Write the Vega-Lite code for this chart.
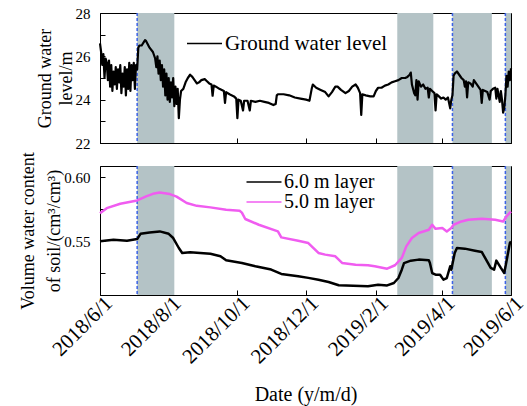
{
"$schema":"https://vega.github.io/schema/vega-lite/v6.json",
"padding":{"left":19,"top":5,"right":2,"bottom":1},
"spacing":23,
"bounds":"flush",
"resolve":{"scale":{"color":"independent"},"legend":{"color":"independent"}},
"datasets":{
"shade":[{"d":"2018-07-04","e":"2018-08-06"},{"d":"2019-02-20","e":"2019-03-24"},{"d":"2019-04-10","e":"2019-05-15"},{"d":"2019-05-27","e":"2019-06-01"}],
"dash":[{"d":"2018-07-04"},{"d":"2019-04-10"},{"d":"2019-05-27"}],
"gw":[
{"d":"2018-06-01","g":26.6},{"d":"2018-06-02","g":26.2},{"d":"2018-06-03","g":25.6},{"d":"2018-06-04","g":26.1},{"d":"2018-06-05","g":25.0},{"d":"2018-06-06","g":25.9},{"d":"2018-06-07","g":25.7},{"d":"2018-06-08","g":24.9},{"d":"2018-06-09","g":25.8},{"d":"2018-06-10","g":24.6},{"d":"2018-06-11","g":25.6},{"d":"2018-06-12","g":24.4},{"d":"2018-06-13","g":25.3},{"d":"2018-06-14","g":24.7},{"d":"2018-06-15","g":25.5},{"d":"2018-06-16","g":24.5},{"d":"2018-06-17","g":25.4},{"d":"2018-06-18","g":24.8},{"d":"2018-06-19","g":25.6},{"d":"2018-06-20","g":24.3},{"d":"2018-06-21","g":25.2},{"d":"2018-06-22","g":24.6},{"d":"2018-06-23","g":25.5},{"d":"2018-06-24","g":24.2},{"d":"2018-06-25","g":25.4},{"d":"2018-06-26","g":24.5},{"d":"2018-06-27","g":25.7},{"d":"2018-06-28","g":24.4},{"d":"2018-06-29","g":25.6},{"d":"2018-06-30","g":24.9},
{"d":"2018-07-01","g":25.7},{"d":"2018-07-02","g":24.5},{"d":"2018-07-03","g":25.6},{"d":"2018-07-04","g":25.4},{"d":"2018-07-05","g":26.4},{"d":"2018-07-06","g":26.5},{"d":"2018-07-08","g":26.5},{"d":"2018-07-11","g":26.75},{"d":"2018-07-12","g":26.7},{"d":"2018-07-15","g":26.4},{"d":"2018-07-18","g":26.2},{"d":"2018-07-20","g":25.9},{"d":"2018-07-21","g":25.5},{"d":"2018-07-22","g":26.0},{"d":"2018-07-23","g":25.2},{"d":"2018-07-24","g":25.8},{"d":"2018-07-25","g":24.9},{"d":"2018-07-26","g":25.6},{"d":"2018-07-27","g":24.6},{"d":"2018-07-28","g":25.4},{"d":"2018-07-29","g":24.2},{"d":"2018-07-30","g":25.2},{"d":"2018-07-31","g":24.0},
{"d":"2018-08-01","g":25.0},{"d":"2018-08-02","g":23.9},{"d":"2018-08-03","g":24.8},{"d":"2018-08-04","g":24.1},{"d":"2018-08-05","g":25.0},{"d":"2018-08-06","g":23.7},{"d":"2018-08-07","g":24.6},{"d":"2018-08-08","g":23.8},{"d":"2018-08-09","g":24.5},{"d":"2018-08-10","g":23.15},{"d":"2018-08-11","g":24.0},{"d":"2018-08-12","g":24.4},{"d":"2018-08-14","g":24.5},{"d":"2018-08-16","g":24.8},{"d":"2018-08-18","g":25.0},{"d":"2018-08-20","g":25.15},{"d":"2018-08-22","g":25.05},{"d":"2018-08-24","g":24.9},{"d":"2018-08-26","g":24.75},{"d":"2018-08-28","g":24.8},{"d":"2018-08-30","g":24.9},
{"d":"2018-09-02","g":24.95},{"d":"2018-09-04","g":24.85},{"d":"2018-09-06","g":24.75},{"d":"2018-09-08","g":24.7},{"d":"2018-09-09","g":24.18},{"d":"2018-09-10","g":24.65},{"d":"2018-09-12","g":24.6},{"d":"2018-09-15","g":24.5},{"d":"2018-09-19","g":24.4},{"d":"2018-09-20","g":23.85},{"d":"2018-09-21","g":24.35},{"d":"2018-09-24","g":24.25},{"d":"2018-09-28","g":24.15},{"d":"2018-09-30","g":24.05},
{"d":"2018-10-01","g":23.15},{"d":"2018-10-02","g":24.0},{"d":"2018-10-04","g":23.95},{"d":"2018-10-06","g":23.5},{"d":"2018-10-07","g":23.95},{"d":"2018-10-10","g":23.95},{"d":"2018-10-12","g":23.5},{"d":"2018-10-13","g":23.95},{"d":"2018-10-17","g":23.9},{"d":"2018-10-21","g":23.95},{"d":"2018-10-25","g":23.9},{"d":"2018-10-29","g":23.85},
{"d":"2018-11-02","g":23.75},{"d":"2018-11-04","g":23.8},{"d":"2018-11-05","g":24.2},{"d":"2018-11-06","g":24.25},{"d":"2018-11-11","g":24.25},{"d":"2018-11-16","g":24.2},{"d":"2018-11-21","g":24.1},{"d":"2018-11-26","g":24.05},
{"d":"2018-12-01","g":24.0},{"d":"2018-12-04","g":23.95},{"d":"2018-12-06","g":24.5},{"d":"2018-12-07","g":24.7},{"d":"2018-12-10","g":24.55},{"d":"2018-12-14","g":24.45},{"d":"2018-12-18","g":24.35},{"d":"2018-12-21","g":24.15},{"d":"2018-12-24","g":24.35},{"d":"2018-12-27","g":24.6},{"d":"2018-12-29","g":24.6},
{"d":"2019-01-01","g":24.45},{"d":"2019-01-05","g":24.3},{"d":"2019-01-08","g":24.4},{"d":"2019-01-11","g":24.6},{"d":"2019-01-14","g":24.7},{"d":"2019-01-16","g":24.55},{"d":"2019-01-18","g":24.3},{"d":"2019-01-19","g":23.3},{"d":"2019-01-20","g":24.25},{"d":"2019-01-23","g":24.2},{"d":"2019-01-27","g":24.15},{"d":"2019-01-30","g":24.15},
{"d":"2019-02-01","g":24.4},{"d":"2019-02-03","g":24.55},{"d":"2019-02-06","g":24.55},{"d":"2019-02-09","g":24.65},{"d":"2019-02-12","g":24.7},{"d":"2019-02-15","g":24.8},{"d":"2019-02-18","g":24.85},{"d":"2019-02-21","g":24.9},{"d":"2019-02-24","g":25.0},{"d":"2019-02-27","g":25.0},
{"d":"2019-03-01","g":25.05},{"d":"2019-03-03","g":25.15},{"d":"2019-03-04","g":25.25},{"d":"2019-03-05","g":24.7},{"d":"2019-03-07","g":24.3},{"d":"2019-03-08","g":24.2},{"d":"2019-03-09","g":24.9},{"d":"2019-03-10","g":24.0},{"d":"2019-03-11","g":24.85},{"d":"2019-03-13","g":24.6},{"d":"2019-03-15","g":24.7},{"d":"2019-03-17","g":24.5},{"d":"2019-03-19","g":24.55},{"d":"2019-03-20","g":24.1},{"d":"2019-03-21","g":24.5},{"d":"2019-03-23","g":24.4},{"d":"2019-03-25","g":24.3},{"d":"2019-03-26","g":23.5},{"d":"2019-03-27","g":24.25},{"d":"2019-03-29","g":24.15},{"d":"2019-03-31","g":24.05},
{"d":"2019-04-02","g":24.1},{"d":"2019-04-04","g":24.0},{"d":"2019-04-06","g":24.1},{"d":"2019-04-08","g":23.6},{"d":"2019-04-09","g":24.0},{"d":"2019-04-10","g":24.2},{"d":"2019-04-11","g":25.1},{"d":"2019-04-12","g":25.2},{"d":"2019-04-14","g":25.3},{"d":"2019-04-16","g":25.15},{"d":"2019-04-18","g":25.0},{"d":"2019-04-20","g":24.9},{"d":"2019-04-21","g":24.6},{"d":"2019-04-22","g":24.85},{"d":"2019-04-23","g":24.1},{"d":"2019-04-24","g":24.8},{"d":"2019-04-26","g":24.75},{"d":"2019-04-28","g":24.6},{"d":"2019-04-29","g":24.9},
{"d":"2019-05-01","g":24.75},{"d":"2019-05-03","g":24.6},{"d":"2019-05-05","g":24.45},{"d":"2019-05-06","g":23.85},{"d":"2019-05-07","g":24.45},{"d":"2019-05-09","g":24.4},{"d":"2019-05-11","g":24.35},{"d":"2019-05-13","g":24.0},{"d":"2019-05-14","g":24.4},{"d":"2019-05-16","g":24.5},{"d":"2019-05-18","g":24.55},{"d":"2019-05-19","g":24.05},{"d":"2019-05-20","g":24.5},{"d":"2019-05-22","g":23.9},{"d":"2019-05-23","g":24.4},{"d":"2019-05-24","g":24.0},{"d":"2019-05-25","g":23.4},{"d":"2019-05-26","g":23.6},{"d":"2019-05-27","g":24.2},{"d":"2019-05-28","g":25.1},{"d":"2019-05-29","g":24.6},{"d":"2019-05-30","g":25.3},{"d":"2019-05-31","g":24.9},{"d":"2019-06-01","g":25.45}
],
"sm":[
{"d":"2018-06-01","s":"5.0 m layer","v":0.572},{"d":"2018-06-07","s":"5.0 m layer","v":0.576},{"d":"2018-06-19","s":"5.0 m layer","v":0.5794},{"d":"2018-07-04","s":"5.0 m layer","v":0.582},{"d":"2018-07-12","s":"5.0 m layer","v":0.5852},{"d":"2018-07-18","s":"5.0 m layer","v":0.5872},{"d":"2018-07-24","s":"5.0 m layer","v":0.5883},{"d":"2018-08-02","s":"5.0 m layer","v":0.587},{"d":"2018-08-08","s":"5.0 m layer","v":0.585},{"d":"2018-08-17","s":"5.0 m layer","v":0.58},{"d":"2018-08-26","s":"5.0 m layer","v":0.5778},{"d":"2018-09-07","s":"5.0 m layer","v":0.5766},{"d":"2018-09-21","s":"5.0 m layer","v":0.5747},{"d":"2018-10-03","s":"5.0 m layer","v":0.574},{"d":"2018-10-05","s":"5.0 m layer","v":0.5725},{"d":"2018-10-08","s":"5.0 m layer","v":0.5675},{"d":"2018-10-20","s":"5.0 m layer","v":0.563},{"d":"2018-11-06","s":"5.0 m layer","v":0.5578},{"d":"2018-11-09","s":"5.0 m layer","v":0.5531},{"d":"2018-11-24","s":"5.0 m layer","v":0.5505},{"d":"2018-12-03","s":"5.0 m layer","v":0.5487},{"d":"2018-12-12","s":"5.0 m layer","v":0.5409},{"d":"2018-12-18","s":"5.0 m layer","v":0.5396},{"d":"2018-12-27","s":"5.0 m layer","v":0.5383},{"d":"2019-01-02","s":"5.0 m layer","v":0.5331},{"d":"2019-01-14","s":"5.0 m layer","v":0.5317},{"d":"2019-01-25","s":"5.0 m layer","v":0.5313},{"d":"2019-01-31","s":"5.0 m layer","v":0.5305},{"d":"2019-02-11","s":"5.0 m layer","v":0.5286},{"d":"2019-02-18","s":"5.0 m layer","v":0.5313},{"d":"2019-02-24","s":"5.0 m layer","v":0.537},{"d":"2019-02-28","s":"5.0 m layer","v":0.5461},{"d":"2019-03-05","s":"5.0 m layer","v":0.5526},{"d":"2019-03-11","s":"5.0 m layer","v":0.5565},{"d":"2019-03-20","s":"5.0 m layer","v":0.5591},{"d":"2019-03-23","s":"5.0 m layer","v":0.563},{"d":"2019-03-26","s":"5.0 m layer","v":0.5598},{"d":"2019-04-01","s":"5.0 m layer","v":0.5604},{"d":"2019-04-05","s":"5.0 m layer","v":0.5578},{"d":"2019-04-09","s":"5.0 m layer","v":0.5604},{"d":"2019-04-11","s":"5.0 m layer","v":0.563},{"d":"2019-04-18","s":"5.0 m layer","v":0.5656},{"d":"2019-04-24","s":"5.0 m layer","v":0.5669},{"d":"2019-05-06","s":"5.0 m layer","v":0.5677},{"d":"2019-05-18","s":"5.0 m layer","v":0.5669},{"d":"2019-05-25","s":"5.0 m layer","v":0.5656},{"d":"2019-05-28","s":"5.0 m layer","v":0.5695},{"d":"2019-06-01","s":"5.0 m layer","v":0.5734},
{"d":"2018-06-01","s":"6.0 m layer","v":0.55},{"d":"2018-06-13","s":"6.0 m layer","v":0.5512},{"d":"2018-06-25","s":"6.0 m layer","v":0.5505},{"d":"2018-07-04","s":"6.0 m layer","v":0.5518},{"d":"2018-07-07","s":"6.0 m layer","v":0.5559},{"d":"2018-07-15","s":"6.0 m layer","v":0.557},{"d":"2018-07-24","s":"6.0 m layer","v":0.5578},{"d":"2018-08-01","s":"6.0 m layer","v":0.5559},{"d":"2018-08-05","s":"6.0 m layer","v":0.5526},{"d":"2018-08-10","s":"6.0 m layer","v":0.5448},{"d":"2018-08-13","s":"6.0 m layer","v":0.5409},{"d":"2018-08-20","s":"6.0 m layer","v":0.5414},{"d":"2018-08-29","s":"6.0 m layer","v":0.5409},{"d":"2018-09-07","s":"6.0 m layer","v":0.5403},{"d":"2018-09-16","s":"6.0 m layer","v":0.5383},{"d":"2018-09-21","s":"6.0 m layer","v":0.5352},{"d":"2018-10-05","s":"6.0 m layer","v":0.5331},{"d":"2018-10-17","s":"6.0 m layer","v":0.5305},{"d":"2018-10-31","s":"6.0 m layer","v":0.5279},{"d":"2018-11-09","s":"6.0 m layer","v":0.5245},{"d":"2018-11-24","s":"6.0 m layer","v":0.5227},{"d":"2018-12-03","s":"6.0 m layer","v":0.5214},{"d":"2018-12-12","s":"6.0 m layer","v":0.52},{"d":"2018-12-21","s":"6.0 m layer","v":0.5182},{"d":"2018-12-30","s":"6.0 m layer","v":0.5156},{"d":"2019-01-25","s":"6.0 m layer","v":0.5148},{"d":"2019-02-03","s":"6.0 m layer","v":0.5161},{"d":"2019-02-11","s":"6.0 m layer","v":0.5155},{"d":"2019-02-17","s":"6.0 m layer","v":0.5174},{"d":"2019-02-21","s":"6.0 m layer","v":0.5213},{"d":"2019-02-24","s":"6.0 m layer","v":0.5278},{"d":"2019-02-26","s":"6.0 m layer","v":0.533},{"d":"2019-03-04","s":"6.0 m layer","v":0.5349},{"d":"2019-03-11","s":"6.0 m layer","v":0.5357},{"d":"2019-03-20","s":"6.0 m layer","v":0.5352},{"d":"2019-03-21","s":"6.0 m layer","v":0.533},{"d":"2019-03-23","s":"6.0 m layer","v":0.5252},{"d":"2019-03-26","s":"6.0 m layer","v":0.5239},{"d":"2019-03-30","s":"6.0 m layer","v":0.5239},{"d":"2019-04-02","s":"6.0 m layer","v":0.52},{"d":"2019-04-05","s":"6.0 m layer","v":0.5213},{"d":"2019-04-08","s":"6.0 m layer","v":0.5305},{"d":"2019-04-09","s":"6.0 m layer","v":0.5278},{"d":"2019-04-12","s":"6.0 m layer","v":0.5409},{"d":"2019-04-14","s":"6.0 m layer","v":0.5448},{"d":"2019-04-21","s":"6.0 m layer","v":0.5443},{"d":"2019-04-30","s":"6.0 m layer","v":0.5427},{"d":"2019-05-06","s":"6.0 m layer","v":0.5417},{"d":"2019-05-09","s":"6.0 m layer","v":0.537},{"d":"2019-05-14","s":"6.0 m layer","v":0.5292},{"d":"2019-05-17","s":"6.0 m layer","v":0.5278},{"d":"2019-05-19","s":"6.0 m layer","v":0.5349},{"d":"2019-05-23","s":"6.0 m layer","v":0.5292},{"d":"2019-05-26","s":"6.0 m layer","v":0.5252},{"d":"2019-05-28","s":"6.0 m layer","v":0.5344},{"d":"2019-05-31","s":"6.0 m layer","v":0.5487},{"d":"2019-06-01","s":"6.0 m layer","v":0.55}
]
},
"vconcat":[
{
"width":411,"height":130,
"encoding":{"x":{"field":"d","type":"temporal","scale":{"type":"utc","domain":[{"year":2018,"month":6,"date":1,"utc":true},{"year":2019,"month":6,"date":1,"utc":true}]},
 "axis":{"labels":false,"title":null,"values":[{"year":2018,"month":6,"date":1,"utc":true},{"year":2018,"month":8,"date":1,"utc":true},{"year":2018,"month":10,"date":1,"utc":true},{"year":2018,"month":12,"date":1,"utc":true},{"year":2019,"month":2,"date":1,"utc":true},{"year":2019,"month":4,"date":1,"utc":true},{"year":2019,"month":6,"date":1,"utc":true}]}}},
"layer":[
{"data":{"name":"shade"},"mark":{"type":"rect","color":"#b4c3c6"},"encoding":{"x2":{"field":"e"}}},
{"data":{"name":"dash"},"mark":{"type":"rule","color":"#3c62e6","strokeDash":[3,2],"strokeWidth":1.5}},
{"data":{"name":"gw"},"mark":{"type":"line","strokeWidth":2.2,"strokeJoin":"round"},
 "encoding":{
  "y":{"field":"g","type":"quantitative","scale":{"domain":[22,28]},"axis":{"values":[22,23,24,25,26,27,28],"labelExpr":"datum.value % 2 == 0 ? datum.label : ''","title":["Ground water","level/m"],"titleLineHeight":21,"titlePadding":0}},
  "color":{"datum":"Ground water level","type":"nominal","scale":{"domain":["Ground water level"],"range":["#000000"]},
   "legend":{"orient":"none","legendX":94,"legendY":20,"title":null,"symbolType":"M-3,0H3","symbolSize":136,"symbolStrokeWidth":1.5,"labelOffset":10,"labelFontSize":21,"labelLimit":300,"padding":0}}
 }}
]
},
{
"width":411,"height":129,
"encoding":{"x":{"field":"d","type":"temporal","scale":{"type":"utc","domain":[{"year":2018,"month":6,"date":1,"utc":true},{"year":2019,"month":6,"date":1,"utc":true}]},
 "axis":{"title":"Date (y/m/d)","titleFontSize":20,"titleFont":"Liberation Serif","titlePadding":17,"labelExpr":"utcFormat(datum.value, '%Y/%-m/%-d')","labelFont":"Liberation Serif","labelAngle":-45,"labelAlign":"right","labelBaseline":"alphabetic","labelFontSize":21,"labelPadding":14,"labelOffset":13,"labelOverlap":false,"labelBound":false,"labelFlush":false,"values":[{"year":2018,"month":6,"date":1,"utc":true},{"year":2018,"month":8,"date":1,"utc":true},{"year":2018,"month":10,"date":1,"utc":true},{"year":2018,"month":12,"date":1,"utc":true},{"year":2019,"month":2,"date":1,"utc":true},{"year":2019,"month":4,"date":1,"utc":true},{"year":2019,"month":6,"date":1,"utc":true}]}}},
"layer":[
{"data":{"name":"shade"},"mark":{"type":"rect","color":"#b4c3c6"},"encoding":{"x2":{"field":"e"}}},
{"data":{"name":"dash"},"mark":{"type":"rule","color":"#3c62e6","strokeDash":[3,2],"strokeWidth":1.5}},
{"data":{"name":"sm"},"mark":{"type":"line","strokeWidth":2.5,"strokeJoin":"round"},
 "encoding":{
  "y":{"field":"v","type":"quantitative","scale":{"domain":[0.508,0.609],"zero":false},"axis":{"values":[0.525,0.55,0.575,0.6],"labelExpr":"datum.value == 0.55 || datum.value == 0.6 ? format(datum.value, '.2f') : ''","title":["Volume water content","of soil/(cm³/cm³)"],"titleLineHeight":26,"titlePadding":0}},
  "color":{"field":"s","type":"nominal","scale":{"domain":["6.0 m layer","5.0 m layer"],"range":["#000000","#f05cf0"]},
   "legend":{"orient":"none","legendX":154,"legendY":6,"title":null,"symbolType":"M-3,0H3","symbolSize":136,"symbolStrokeWidth":1.5,"labelOffset":10,"labelFontSize":20,"labelLimit":300,"padding":0,"rowPadding":-1}}
 }}
]
}
],
"config":{
 "font":"Liberation Serif",
 "view":{"stroke":"#000000","strokeWidth":1},
 "axis":{"grid":false,"domainColor":"#000000","tickColor":"#000000","labelColor":"#000000","titleColor":"#000000","labelFont":"Liberation Serif","titleFont":"Liberation Serif","titleFontWeight":"normal","labelFontSize":15,"titleFontSize":18,"tickSize":-5,"labelPadding":15},
 "legend":{"labelFont":"Liberation Serif","labelColor":"#000000"}
}
}
